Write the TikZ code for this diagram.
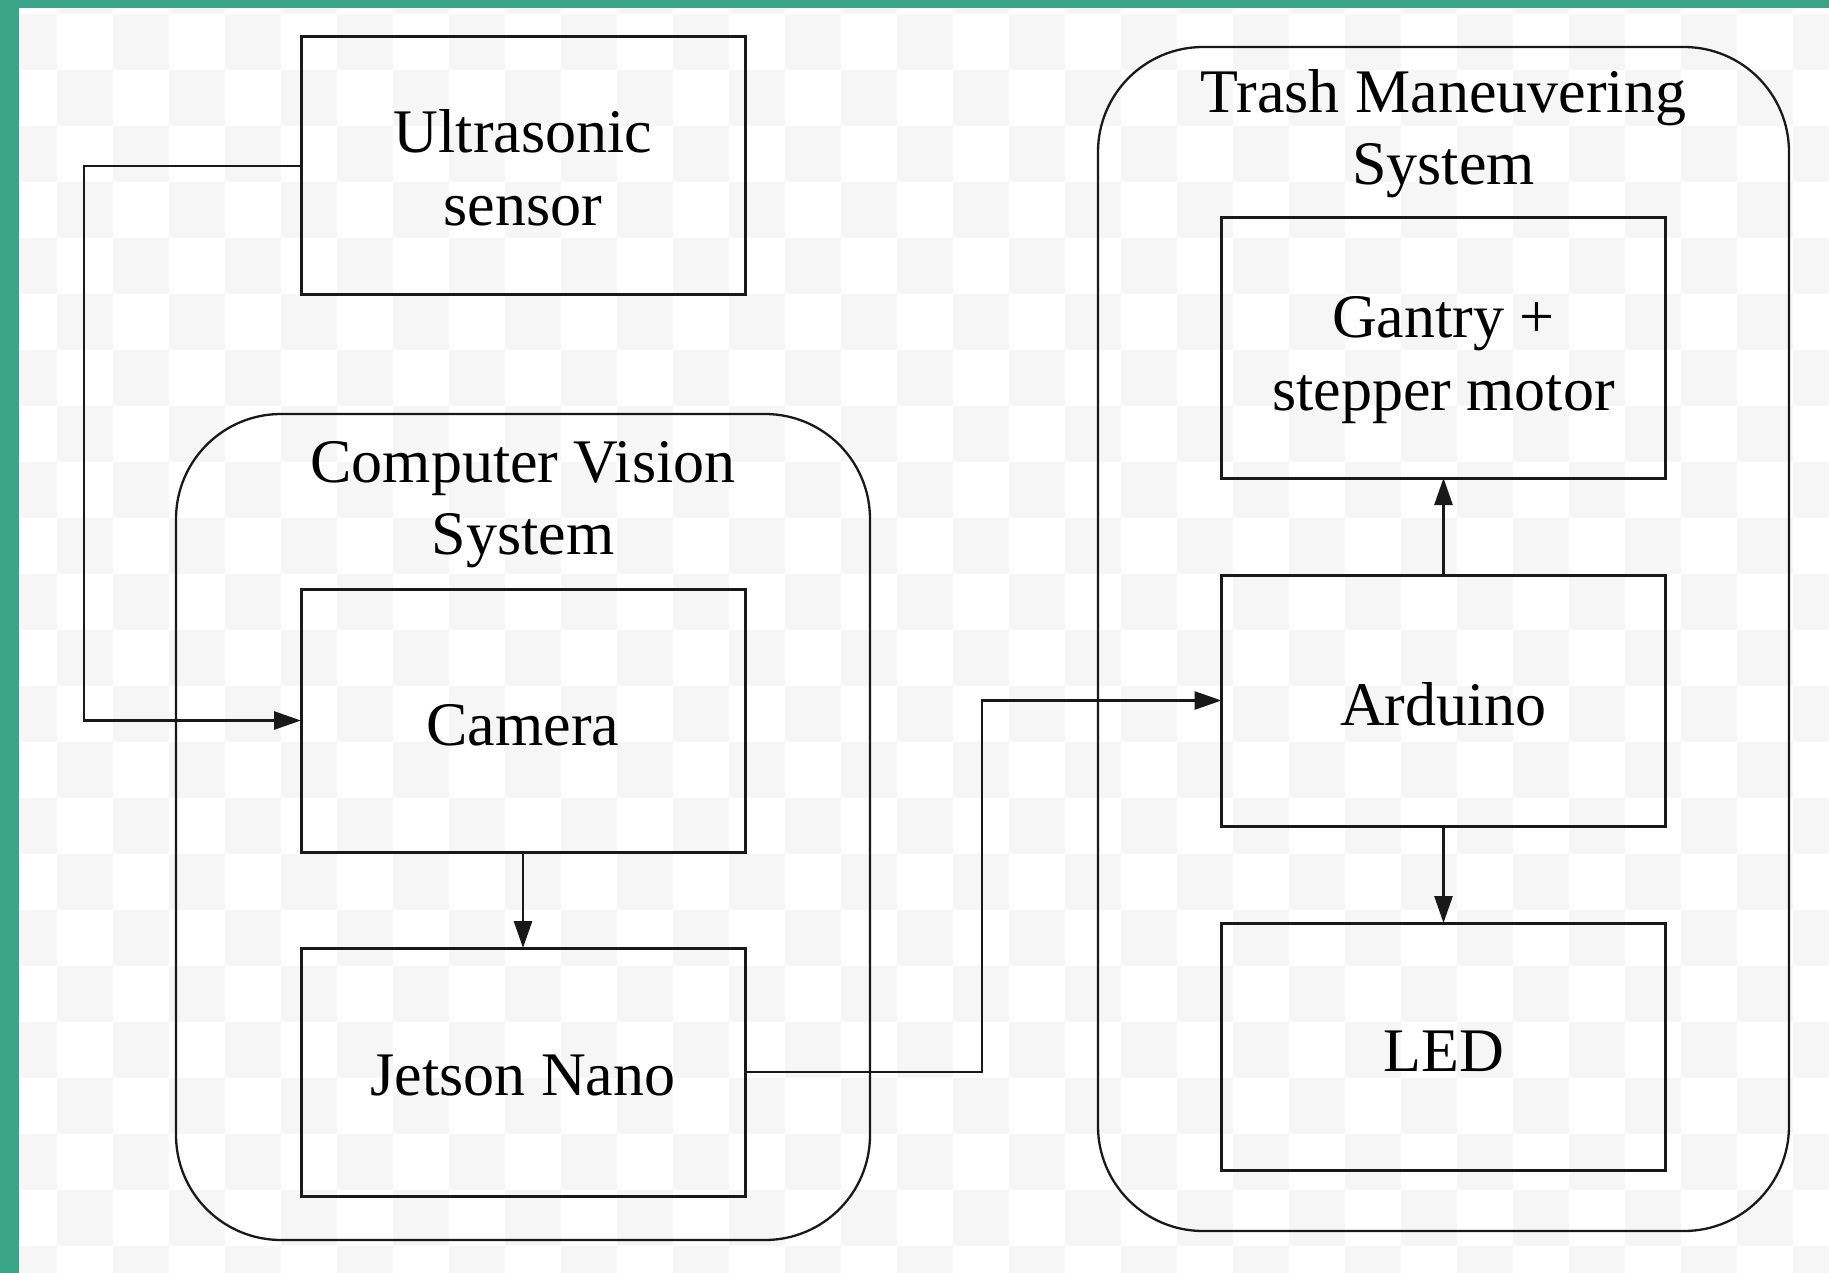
\documentclass[tikz,border=0pt]{standalone}
\usepackage{fontspec}
\setmainfont{Liberation Serif}
\usetikzlibrary{arrows.meta}
\definecolor{teal1}{RGB}{58,164,136}
\definecolor{chk}{RGB}{246,246,246}
\definecolor{ink}{RGB}{25,25,25}
\newcommand{\dn}[1]{\rule{0pt}{#1}}
\begin{document}
\begin{tikzpicture}[x=1pt,y=-1pt,
  box/.style={draw=ink,line width=3pt,minimum width=444pt,inner sep=0pt,outer sep=0pt,align=center,font=\fontsize{62}{73}\selectfont,text=black},
  container/.style={draw=ink,line width=2.3pt,rounded corners=105pt,inner sep=0pt,outer sep=0pt},
  title/.style={align=center,font=\fontsize{62}{72}\selectfont,inner sep=0pt,text=black},
  conn/.style={draw=ink,line width=2.8pt},
  arr/.style={conn,-{Triangle[length=27pt,width=18pt]}}
]
\useasboundingbox (0,0) rectangle (1829,1273);
\begin{scope}
\clip (0,0) rectangle (1829,1273);
\fill[white] (0,0) rectangle (1829,1273);
\foreach \i in {0,...,32} {
  \foreach \j in {-1,...,22} {
    \pgfmathtruncatemacro\s{mod(\i+\j+32,2)}
    \ifnum\s=0 \fill[chk] (1+56*\i,14+56*\j) rectangle ++(56,56); \fi
  }
}
\fill[teal1] (0,0) rectangle (19,1273);
\fill[teal1] (0,0) rectangle (1829,8);
\end{scope}

% containers
\node[container, minimum width=694pt, minimum height=826pt] (cv) at (523,827) {};
\node[container, minimum width=691pt, minimum height=1184pt] (tms) at (1443.5,639) {};
\node[title] (cvt) at (523,505) {Computer Vision\\System};
\node[title] (tmt) at (1443.5,134) {Trash Maneuvering\\System};

% boxes
\node[box, minimum height=258pt] (us) at (523,166) {\dn{46pt}Ultrasonic\\sensor};
\node[box, minimum height=263pt] (cam) at (523,720.5) {\dn{50pt}Camera};
\node[box, minimum height=248pt] (jet) at (523,1072) {\dn{48pt}Jetson Nano};
\node[box, minimum height=260pt] (gan) at (1443.5,348) {\dn{66pt}Gantry +\\stepper motor};
\node[box, minimum height=251pt] (ard) at (1443.5,700.5) {\dn{50pt}Arduino};
\node[box, minimum height=247pt] (led) at (1443.5,1046.5) {\dn{50pt}LED};

% connectors
\coordinate (lx) at (84,0);
\coordinate (mx) at (982,0);
\draw[arr] (us.west) -- (us.west -| lx) -- (lx |- cam.west) -- (cam.west);
\draw[arr] (cam.south) -- (jet.north);
\draw[arr] (jet.east) -- (jet.east -| mx) -- (mx |- ard.west) -- (ard.west);
\draw[arr] (ard.north) -- (gan.south);
\draw[arr] (ard.south) -- (led.north);
\end{tikzpicture}
\end{document}
